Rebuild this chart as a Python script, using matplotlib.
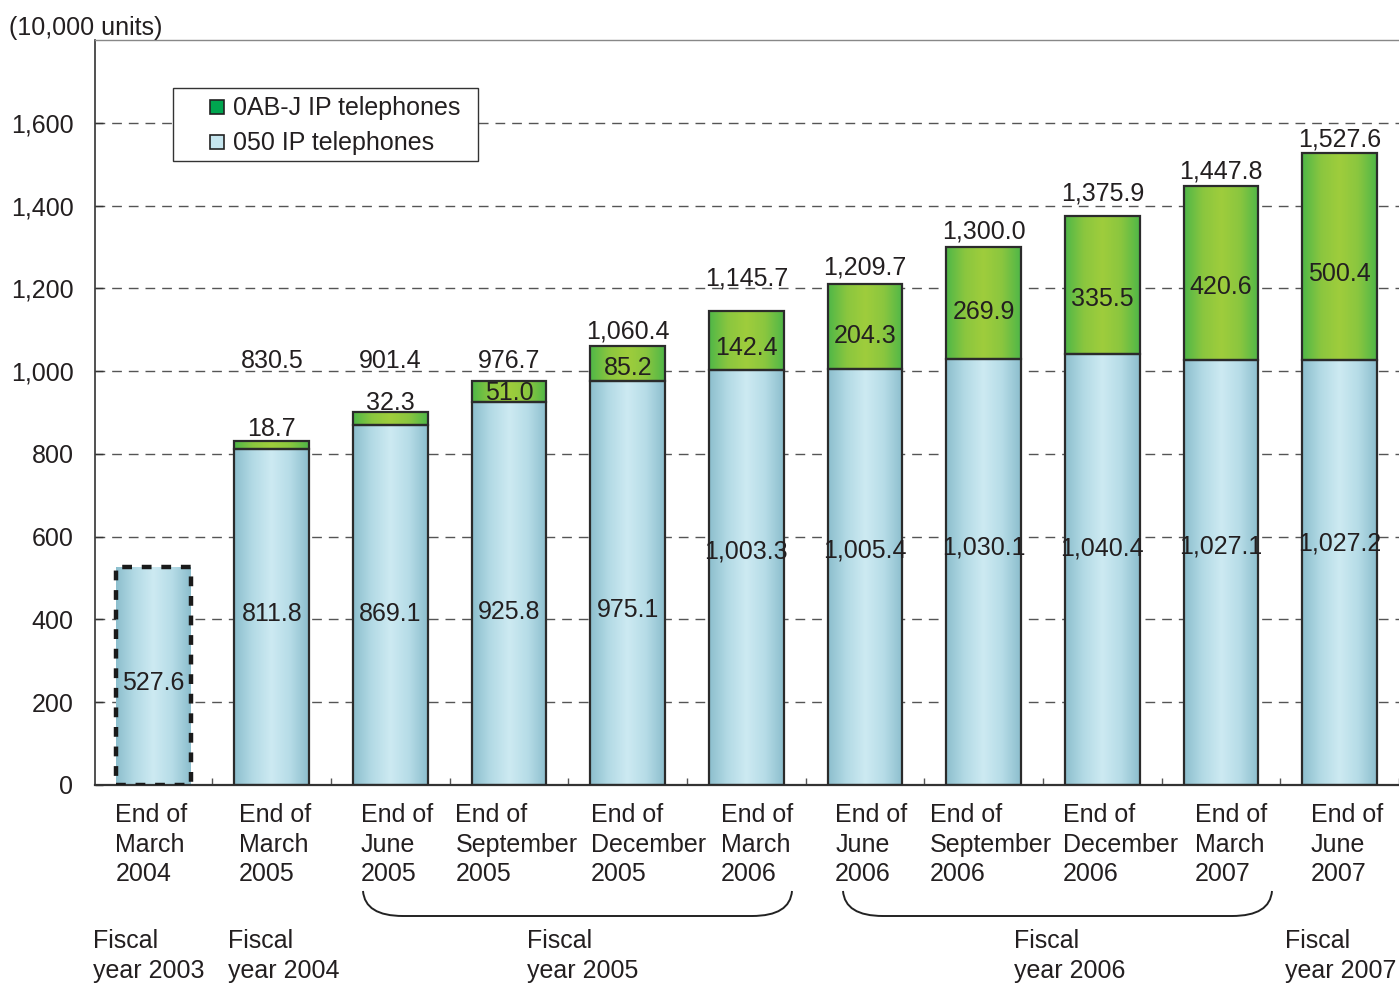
import numpy as np
import matplotlib
matplotlib.use("Agg")
import matplotlib.pyplot as plt
from matplotlib.path import Path
from matplotlib.patches import PathPatch, Rectangle
from matplotlib.colors import LinearSegmentedColormap

plt.rcParams['font.family'] = ['Liberation Sans', 'DejaVu Sans']

# ---------------- data ----------------
categories = ["End of\nMarch\n2004", "End of\nMarch\n2005", "End of\nJune\n2005",
              "End of\nSeptember\n2005", "End of\nDecember\n2005", "End of\nMarch\n2006",
              "End of\nJune\n2006", "End of\nSeptember\n2006", "End of\nDecember\n2006",
              "End of\nMarch\n2007", "End of\nJune\n2007"]
ip050 = [527.6, 811.8, 869.1, 925.8, 975.1, 1003.3, 1005.4, 1030.1, 1040.4, 1027.1, 1027.2]
ip0abj = [0.0, 18.7, 32.3, 51.0, 85.2, 142.4, 204.3, 269.9, 335.5, 420.6, 500.4]
totals = [None, 830.5, 901.4, 976.7, 1060.4, 1145.7, 1209.7, 1300.0, 1375.9, 1447.8, 1527.6]
series_names = ["0AB-J IP telephones", "050 IP telephones"]
fiscal_labels = ["Fiscal\nyear 2003", "Fiscal\nyear 2004", "Fiscal\nyear 2005",
                 "Fiscal\nyear 2006", "Fiscal\nyear 2007"]
yticks = [0, 200, 400, 600, 800, 1000, 1200, 1400, 1600]

# ---------------- layout (not data) ----------------
lab050_y = [254, 421, 421, 426, 429, 571, 574, 581, 579, 583, 591]
lab0ab_y = [None, 867, 930, 954, 1015, 1063, 1092, 1150, 1182, 1211, 1242]
labtot_y = [None, 1031, 1031, 1031, 1102, 1230, 1257, 1344, 1436, 1489, 1567]
cat_left_px = [-38, -33, -30, -54, -37, -26, -30, -54, -40, -26, -29]  # left edge offset from bar centre
fiscal_pos = [93, 228, 527, 1014, 1285]

W, H = 1399, 983
fig = plt.figure(figsize=(W / 100, H / 100), dpi=100)
ax = fig.add_axes([95 / W, 1 - 785 / H, (1399 - 95) / W, (785 - 40) / H])

def px(x, y):
    return (x / W, 1 - y / H)

TXT = '#231f20'
FS = 18
LS = 1.3
x = np.arange(len(categories))
width = 0.63
XMIN, XMAX = -0.49, 10.45
unit_px = (1399 - 95) / (XMAX - XMIN)
ydn = -7  # visual centring offset for digits

blue_cmap = LinearSegmentedColormap.from_list('b', ['#8cbecd', '#b3dae5', '#cdeaf2', '#b6dce7', '#8cbecd'])
green_cmap = LinearSegmentedColormap.from_list('g', ['#4fb748', '#8ac63f', '#9fcd3c', '#8ac63f', '#4fb748'])
grad = np.linspace(0, 1, 256).reshape(1, -1)

bars_b = ax.bar(x, ip050, width, facecolor='none', edgecolor='#2b2b2b', linewidth=1.6, zorder=3)
bars_g = ax.bar(x, ip0abj, width, bottom=ip050, facecolor='none', edgecolor='#2b2b2b',
                linewidth=1.6, zorder=3)

for bars, cmap in ((bars_b, blue_cmap), (bars_g, green_cmap)):
    for r in bars:
        if r.get_height() <= 0:
            r.set_visible(False)
            continue
        x0, y0 = r.get_x(), r.get_y()
        im = ax.imshow(grad, cmap=cmap, aspect='auto', zorder=2,
                       extent=[x0, x0 + r.get_width(), y0, y0 + r.get_height()])
        im.set_clip_path(r)

# first bar: dashed thick outline
bars_b[0].set_edgecolor('#1a1a1a')
bars_b[0].set_linewidth(3.2)
bars_b[0].set_linestyle((0, (2.2, 2.2)))

ax.set_xlim(XMIN, XMAX)
ax.set_ylim(0, 1800)

# grid
for yv in yticks[1:]:
    ax.axhline(yv, color='#555555', lw=1.0, ls=(0, (7, 5)), zorder=1)

# spines
ax.spines['right'].set_visible(False)
ax.spines['top'].set_color('#888888')
ax.spines['top'].set_linewidth(1.0)
ax.spines['left'].set_color('#333333')
ax.spines['left'].set_linewidth(1.2)
ax.spines['bottom'].set_color('#333333')
ax.spines['bottom'].set_linewidth(1.6)

ax.set_yticks(yticks)
ax.set_yticklabels([f"{v:,}" for v in yticks], fontsize=FS, color=TXT)
ax.tick_params(axis='y', direction='in', length=6, width=1, color='#333333', pad=15.5)

ax.set_xticks(x + 0.5, minor=True)
ax.set_xticks(x)
ax.set_xticklabels([''] * len(x))
ax.tick_params(axis='x', which='major', length=0)
ax.tick_params(axis='x', which='minor', direction='in', length=5, width=1, color='#555555')

xtr = ax.get_xaxis_transform()
for i, lab in enumerate(categories):
    ax.text(x[i] + cat_left_px[i] / unit_px, -(803 - 785) / 745, lab, transform=xtr,
            ha='left', va='top', fontsize=FS, color=TXT, linespacing=LS, clip_on=False)

# value labels
for i in range(len(categories)):
    ax.text(x[i], lab050_y[i] + ydn, f"{ip050[i]:,.1f}", ha='center', va='center',
            fontsize=FS, color=TXT, zorder=5)
    if lab0ab_y[i] is not None:
        ax.text(x[i], lab0ab_y[i] + ydn, f"{ip0abj[i]:,.1f}", ha='center', va='center',
                fontsize=FS, color=TXT, zorder=5)
    if labtot_y[i] is not None:
        ax.text(x[i], labtot_y[i] + ydn, f"{totals[i]:,.1f}", ha='center', va='center',
                fontsize=FS, color=TXT, zorder=5)

# unit label
fig.text(*px(9, 28), "(10,000 units)", fontsize=FS, color=TXT, ha='left', va='center')

# legend (drawn as a box with swatches)
lx0, ly0 = px(173, 161)
lx1, ly1 = px(478, 88)
fig.add_artist(Rectangle((lx0, ly0), lx1 - lx0, ly1 - ly0, transform=fig.transFigure,
                         facecolor='white', edgecolor='#333333', lw=1.0, zorder=6))
sw_cols = ['#00a54f', '#c6e6ef']
sw_y = [107, 142]
for col, yy, name in zip(sw_cols, sw_y, series_names):
    sx, sy = px(210, yy + 7)
    fig.add_artist(Rectangle((sx, sy), 14 / W, 14 / H, transform=fig.transFigure,
                             facecolor=col, edgecolor='#222222', lw=1.2, zorder=7))
    fig.text(*px(233, yy + 1), name, fontsize=FS, color=TXT, ha='left', va='center', zorder=7)

# braces
def brace(xa, xb, yt, yb, r=40):
    verts = [px(xa, yt), px(xa + 2, yb), px(xa + r, yb), px(xb - r, yb),
             px(xb - 2, yb), px(xb, yt)]
    codes = [Path.MOVETO, Path.CURVE3, Path.CURVE3, Path.LINETO, Path.CURVE3, Path.CURVE3]
    fig.add_artist(PathPatch(Path(verts, codes), transform=fig.transFigure,
                             facecolor='none', edgecolor='#222222', lw=1.4))

brace(363, 792, 891, 916)
brace(843, 1272, 891, 916)

for xp, lab in zip(fiscal_pos, fiscal_labels):
    fig.text(*px(xp, 929), lab, fontsize=FS, color=TXT, ha='left', va='top', linespacing=LS)

fig.savefig('out.png', dpi=100)
